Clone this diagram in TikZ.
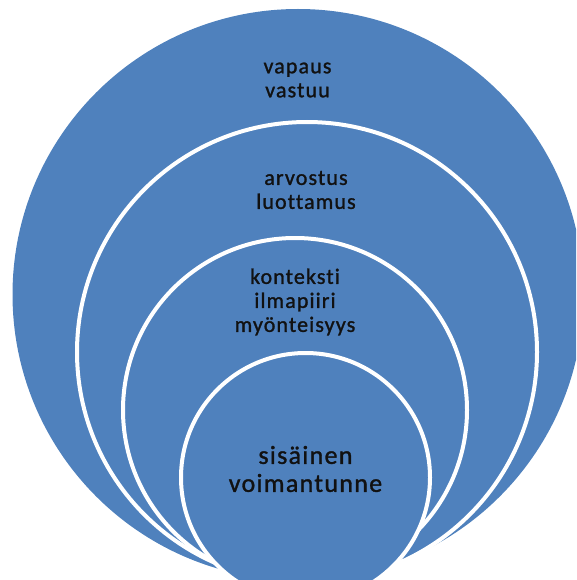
\documentclass[tikz,border=0pt]{standalone}
\usepackage{fontspec}
\setmainfont{Carlito}[LetterSpace=5,Ligatures=NoCommon,FakeBold=1.2]
\usepackage{tikz}
\definecolor{ringblue}{HTML}{4F81BD}
\definecolor{inkgrey}{HTML}{111111}

\begin{document}
\begin{tikzpicture}[x=1pt,y=-1pt,
  disc/.style={circle,fill=ringblue,draw=white,line width=4pt,inner sep=0pt},
  lbl/.style={align=center,text=inkgrey,font=\fontsize{22}{24}\selectfont},
  core/.style={lbl,font=\fontsize{26}{28}\selectfont}]
\useasboundingbox (0,0) rectangle (576,580);
\clip (0,0) rectangle (576,580);
\node[disc,draw=none,minimum size=571pt] (freedom) at (298,294.5) {};
\node[disc,minimum size=460pt] (esteem) at (307,352) {};
\node[disc,minimum size=344pt] (context) at (295,410) {};
\node[disc,minimum size=249pt] (inner) at (305.5,477.5) {};
\node[lbl] (freedomtxt) at (297.5,80) {vapaus\\vastuu};
\node[lbl] (esteemtxt) at (306,190) {arvostus\\luottamus};
\node[lbl] (contexttxt) at (295,302) {konteksti\\ilmapiiri\\myönteisyys};
\node[core] (innertxt) at (305.5,469) {sisäinen\\voimantunne};
\end{tikzpicture}
\end{document}
